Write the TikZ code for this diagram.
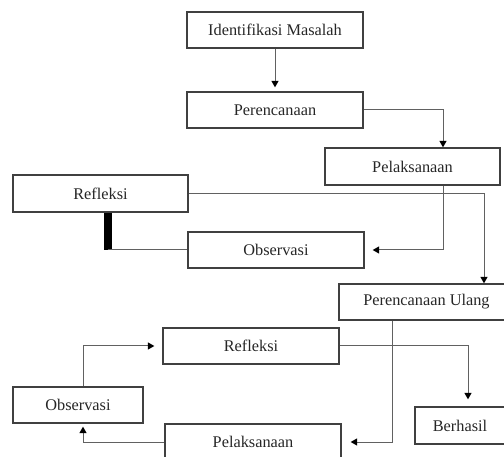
\documentclass[tikz,border=0pt]{standalone}
\usepackage{fontspec}
\setmainfont{Liberation Serif}
\usetikzlibrary{arrows.meta}
\begin{document}
\begin{tikzpicture}[x=1pt,y=-1pt,
  box/.style={draw=black!75, line width=1.3pt, inner sep=0pt, anchor=center,
    minimum height=36pt, text=black!85, font=\fontsize{16.3}{19}\selectfont},
  conn/.style={draw=black!62, line width=1pt},
  arr/.style={conn, -{Triangle[length=6.5pt,width=7pt,black]}}]
\useasboundingbox (0,0) rectangle (504,457);
\node[box, minimum width=176pt] (id)   at (275,30)    {Identifikasi Masalah};
\node[box, minimum width=176pt] (per)  at (275,110)   {Perencanaan};
\node[box, minimum width=175pt, minimum height=37pt] (pel)  at (412.5,166.5) {Pelaksanaan};
\node[box, minimum width=175pt, minimum height=37pt] (ref1) at (100.5,193.5) {Refleksi};
\node[box, minimum width=176pt] (obs1) at (276,250)   {Observasi};
\node[box, minimum width=175pt] (pu)   at (426.5,302) {Perencanaan Ulang};
\node[box, minimum width=176pt] (ref2) at (251,346)   {Refleksi};
\node[box, minimum width=130pt] (obs2) at (78,405)    {Observasi};
\node[box, minimum width=90pt, minimum height=37pt] (ber) at (460,425.5) {Berhasil};
\node[box, minimum width=176pt] (pel2) at (253,442)   {Pelaksanaan};

\draw[arr, shorten >=4pt] (id) -- (per);
\draw[arr] (per.east) -| ([xshift=30.5pt]pel.north);
\draw[arr, shorten >=8pt] ([xshift=30.5pt]pel.south) |- (obs1.east);
\draw[arr] (ref1.east) -| ([xshift=57.5pt]pu.north);
\draw[line width=8pt, black] ([xshift=7pt]ref1.south) -- ([xshift=7pt]ref1.south |- obs1.west);
\draw[conn] ([xshift=7pt]ref1.south |- obs1.west) -- (obs1.west);
\draw[arr, shorten >=9pt] ([xshift=-34.5pt]pu.south) |- (pel2.east);
\draw[arr, shorten >=7pt] (ref2.east) -| ([xshift=8pt]ber.north);
\draw[arr, shorten >=3pt] (pel2.west) -| ([xshift=5pt]obs2.south);
\draw[arr, shorten >=8pt] ([xshift=5pt]obs2.north) |- (ref2.west);
\end{tikzpicture}
\end{document}
